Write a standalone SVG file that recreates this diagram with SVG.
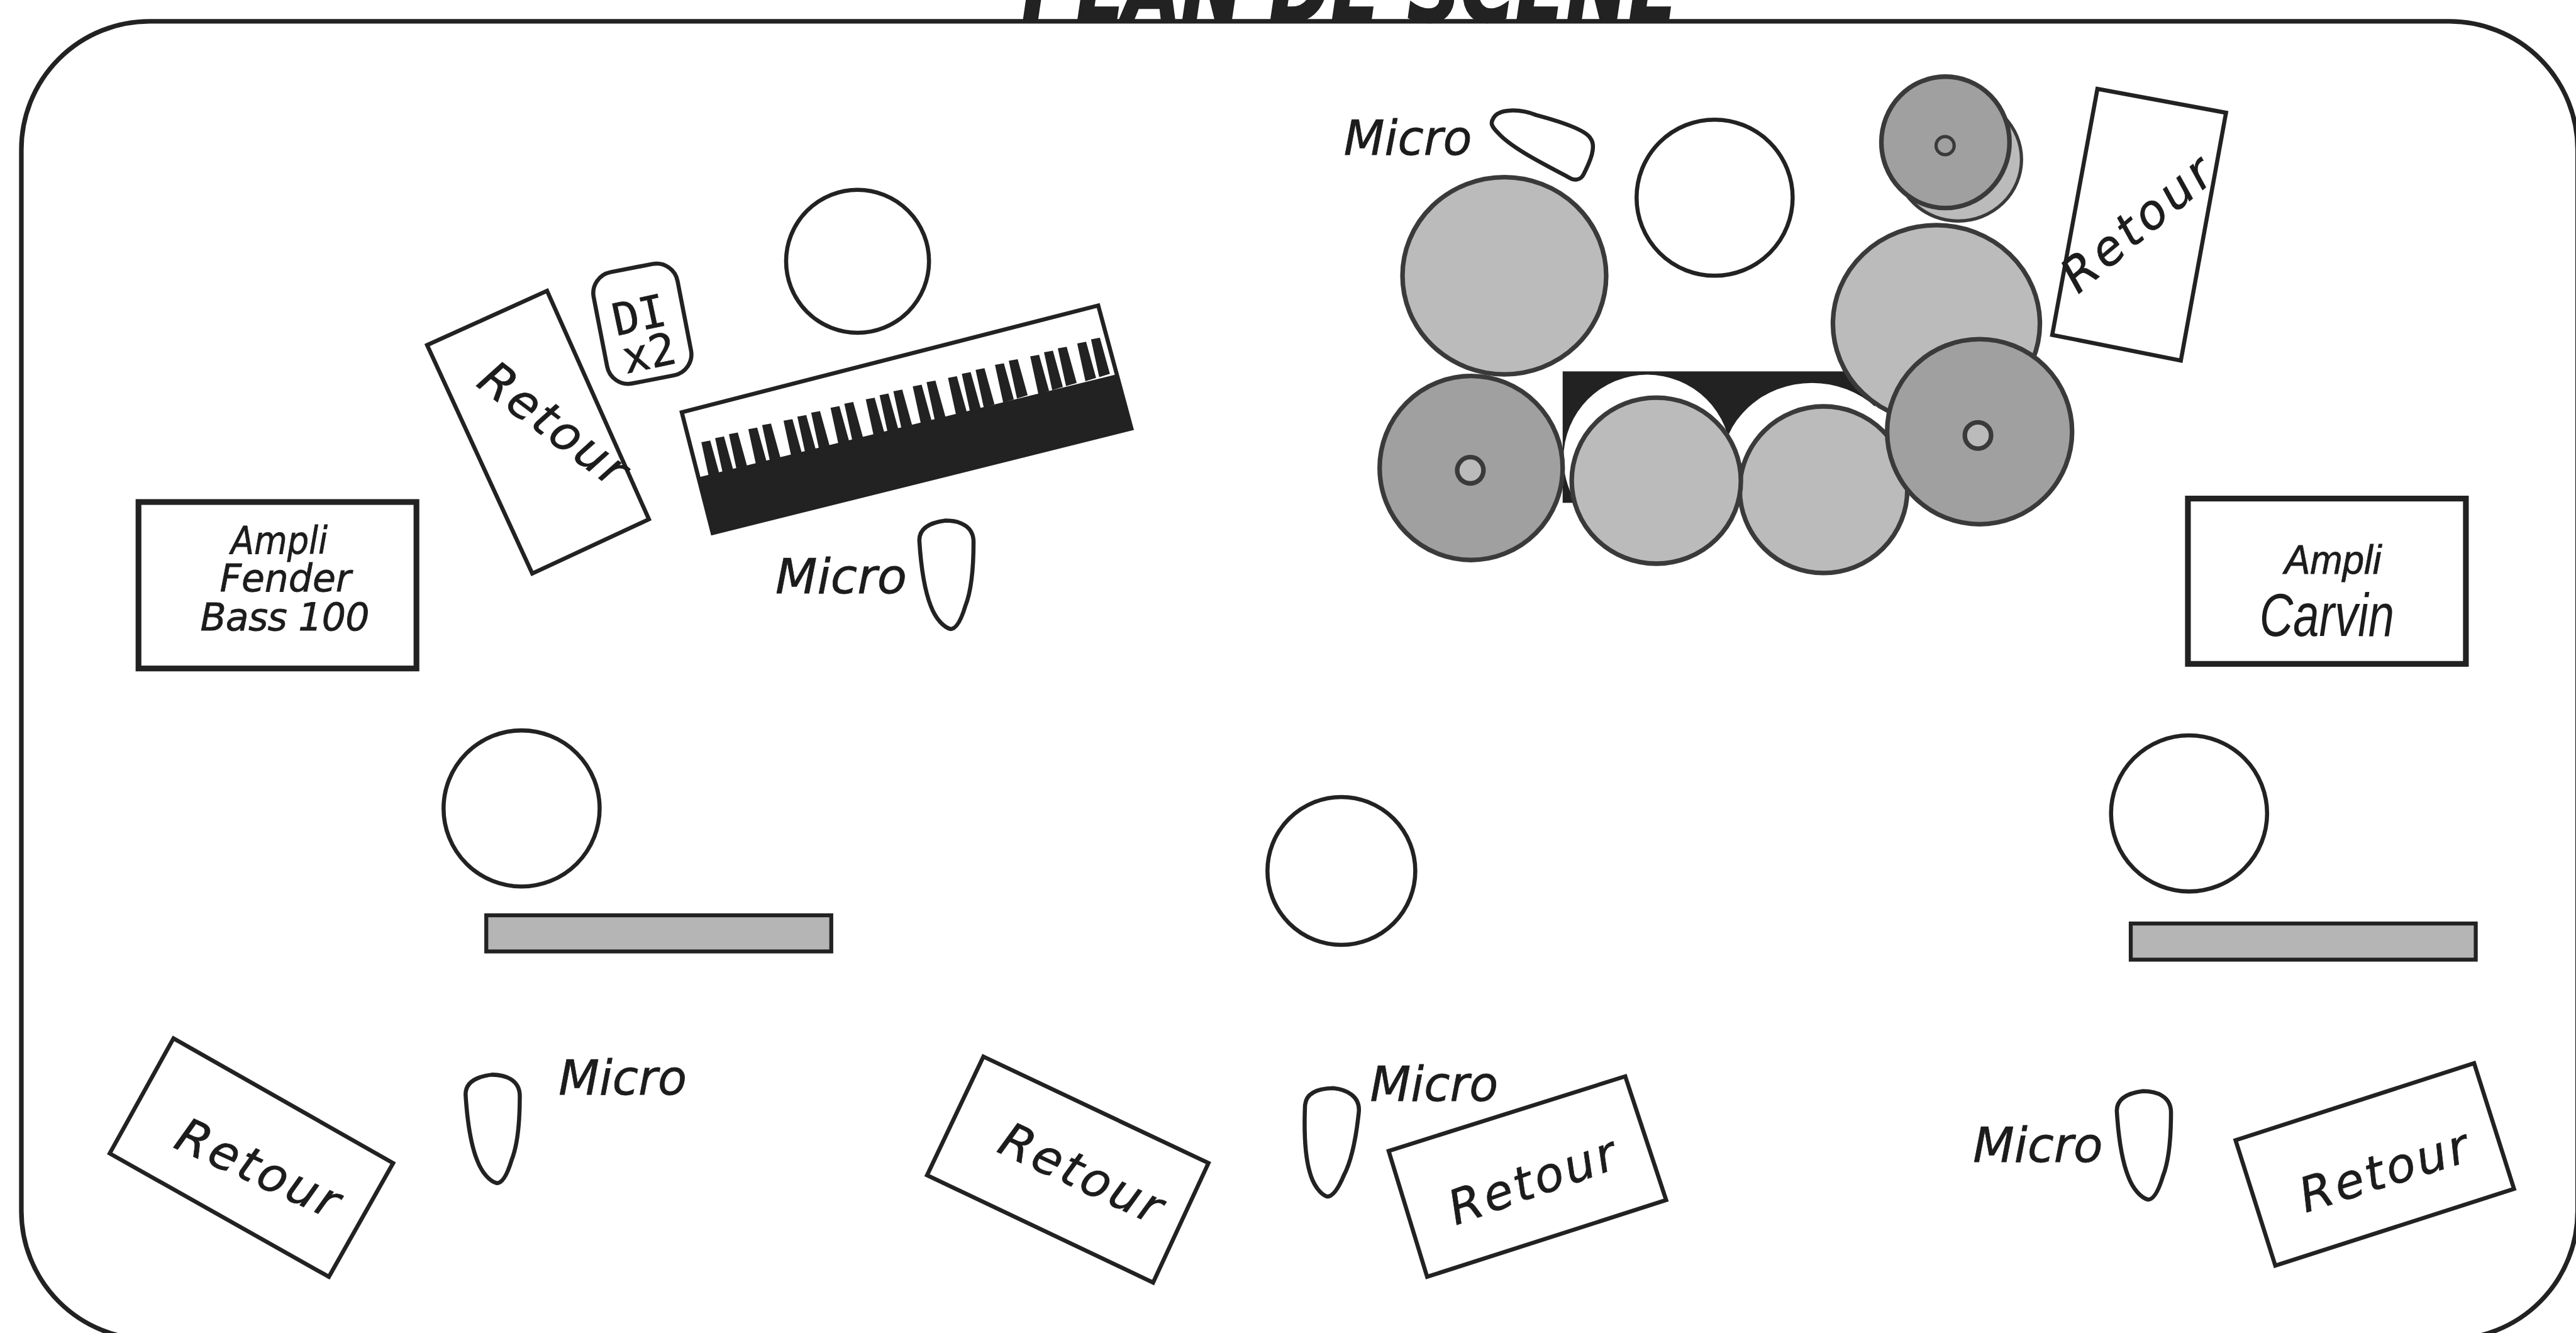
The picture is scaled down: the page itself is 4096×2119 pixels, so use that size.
<svg xmlns="http://www.w3.org/2000/svg" width="4096" height="2119" viewBox="0 0 4096 2119">
<style>
.o{fill:#fff;stroke:#222;stroke-width:2.5;stroke-linejoin:miter}
.t{font-family:"DejaVu Sans",sans-serif;font-style:italic;fill:#1c1c1c;font-size:29px;stroke:#1c1c1c;stroke-width:.3}
.c{text-anchor:middle}
.l{fill:#bbb;stroke:#3a3a3a;stroke-width:2.8}
.d{fill:#a0a0a0;stroke:#3a3a3a;stroke-width:2.8}
.n{fill:#222}
</style>
<defs>
<path id="pick" class="o" d="M0,12 C0,4 8,1 16,0 C24,0 33,3 33,13 C33,28 32,42 28,52 C25,62 22,66 19,66 C15,65 10,60 7,52 C3,42 1,28 0,12 Z"/>
<polygon id="key" class="n" points="0,0 5.400,-1 11.500,21 5,23"/>
<g id="oct">
<use href="#key" x="0" y="0"/><use href="#key" x="8.400" y="-2.500"/><use href="#key" x="16.800" y="-4.900"/><use href="#key" x="28.600" y="-7.900"/><use href="#key" x="37" y="-10.400"/>
</g>
</defs>
<rect width="4096" height="2119" fill="#fff"/>
<g transform="scale(2.6122)">
<g id="title">
<text x="822" y="13" class="c" font-family="'DejaVu Sans',sans-serif" font-weight="bold" font-style="italic" font-size="60" fill="#222" stroke="#222" stroke-width="1" textLength="400" lengthAdjust="spacingAndGlyphs">PLAN DE SCENE</text>
</g>
<rect id="stage" x="13" y="13" width="1556" height="802" rx="78" ry="78" fill="none" stroke="#222" stroke-width="2.8"/>

<g id="voice-keys"><circle class="o" cx="522" cy="159" r="43.500"/></g>
<g id="retour-keys">
<polygon class="o" points="260,210 333,177 395,316 324,349"/>
<text class="t c" transform="translate(331,266) rotate(37)" textLength="105" lengthAdjust="spacing">Retour</text>
</g>
<g id="di">
<rect class="o" x="365" y="162.500" width="52" height="69" rx="13" transform="rotate(-11 391 197)"/>
<text transform="translate(391,201) rotate(-12)" class="c" font-family="'DejaVu Sans Mono',monospace" font-size="27" fill="#1c1c1c" stroke="#1c1c1c" stroke-width=".3">DI</text>
<text transform="translate(397,224) rotate(-12)" class="c" font-family="'DejaVu Sans Mono',monospace" font-size="27" fill="#1c1c1c" stroke="#1c1c1c" stroke-width=".3">x2</text>
</g>
<g id="keyboard">
<polygon class="o" points="415,250.900 668.500,185.900 688.700,260.800 433.800,324.400"/>
<polygon class="n" points="426,290.300 679,228 688.700,260.800 433.800,324.400"/>
<use href="#oct" x="426.900" y="269.100"/><use href="#oct" x="476.950" y="256.050"/><use href="#oct" x="527" y="243"/><use href="#oct" x="577.050" y="229.950"/><use href="#oct" x="627.100" y="216.900"/>
</g>
<g id="micro-keys">
<use href="#pick" x="559.600" y="316.800"/>
<text class="t" x="472" y="361" textLength="80" lengthAdjust="spacingAndGlyphs">Micro</text>
</g>
<g id="ampli-fender">
<rect class="o" style="stroke-width:3.500" x="84.300" y="305.500" width="169.200" height="101.300"/>
<text class="t c" style="font-size:23px" x="170" y="336.700" textLength="59" lengthAdjust="spacingAndGlyphs">Ampli</text>
<text class="t c" style="font-size:23px" x="173.800" y="360" textLength="80" lengthAdjust="spacingAndGlyphs">Fender</text>
<text class="t c" style="font-size:23px" x="173.400" y="383.500" textLength="103" lengthAdjust="spacing">Bass 100</text>
</g>
<g id="micro-drums">
<text class="t" x="818" y="94" textLength="78" lengthAdjust="spacingAndGlyphs">Micro</text>
<path class="o" d="M909,72 C912,66 925,66 935,70 C950,74 965,79 968,84 C972,89 968,98 964,106 C962,110 958,110 955,108 C940,100 920,90 912,81 C908,77 907,75 909,72 Z"/>
</g>
<g id="voice-drums"><ellipse class="o" cx="1043.700" cy="120.300" rx="47.500" ry="47.500"/></g>
<g id="drums">
<rect class="n" x="951.200" y="226" width="190" height="80"/>
<circle cx="1002.700" cy="279" r="51" fill="#fff"/>
<ellipse cx="1103" cy="284" rx="55" ry="51" fill="#fff"/>
<ellipse class="l" cx="915.700" cy="167.800" rx="62" ry="60"/>
<ellipse class="l" cx="1178.700" cy="197" rx="63" ry="60"/>
<ellipse class="l" style="stroke-width:2" cx="1192" cy="97" rx="38.500" ry="37.500"/>
<ellipse class="d" cx="1184.200" cy="86.600" rx="39" ry="40"/>
<ellipse class="d" style="stroke-width:2" cx="1184" cy="88.600" rx="5.500" ry="5.500"/>
<ellipse class="l" cx="1110" cy="298" rx="51" ry="50.700"/>
<ellipse class="l" cx="1008.200" cy="292.500" rx="51.500" ry="50.500"/>
<ellipse class="d" cx="895.500" cy="284.800" rx="55.700" ry="56"/>
<circle class="l" cx="895" cy="286.200" r="8"/>
<ellipse class="d" cx="1205" cy="262.700" rx="56.300" ry="56.300"/>
<circle class="l" cx="1204" cy="265" r="8"/>
</g>
<g id="retour-drums">
<polygon class="o" points="1276.700,54.100 1355,68.600 1327.500,219.400 1249.200,203.800"/>
<text class="t c" transform="translate(1307,144) rotate(-40)" textLength="110" lengthAdjust="spacing">Retour</text>
</g>
<g id="ampli-carvin">
<rect class="o" style="stroke-width:3.500" x="1331.800" y="303.400" width="169.200" height="100.600"/>
<text x="1420" y="349" class="c" font-family="'Liberation Sans',sans-serif" font-style="italic" font-size="25" fill="#1c1c1c" stroke="#1c1c1c" stroke-width=".3" textLength="59" lengthAdjust="spacingAndGlyphs">Ampli</text>
<text x="1416.400" y="386.900" class="c" font-family="'Liberation Sans',sans-serif" font-style="italic" font-size="37" fill="#1c1c1c" textLength="82" lengthAdjust="spacingAndGlyphs">Carvin</text>
</g>
<g id="voice-left"><circle class="o" cx="317.500" cy="492" r="47.500"/></g>
<g id="voice-center"><circle class="o" cx="816.500" cy="530" r="45"/></g>
<g id="voice-right"><circle class="o" cx="1332.500" cy="495" r="47.500"/></g>
<g id="bar-left"><rect x="296" y="557" width="210" height="22" fill="#b5b5b5" stroke="#222" stroke-width="2.400"/></g>
<g id="bar-right"><rect x="1297" y="562" width="210" height="22" fill="#b5b5b5" stroke="#222" stroke-width="2.400"/></g>

<g id="retour-bl">
<polygon class="o" points="105.600,631.900 239.300,707.800 200.200,777 66.800,701.900"/>
<text class="t c" transform="translate(153,720) rotate(24.500)" textLength="106" lengthAdjust="spacing">Retour</text>
</g>
<g id="micro-left">
<use href="#pick" x="283.400" y="654"/>
<text class="t" x="340" y="666" textLength="78" lengthAdjust="spacingAndGlyphs">Micro</text>
</g>
<g id="retour-cl">
<polygon class="o" points="598.600,643 735.600,707.800 701.900,780.500 564.300,715.200"/>
<text class="t c" transform="translate(654,723) rotate(25)" textLength="106" lengthAdjust="spacing">Retour</text>
</g>
<g id="micro-center">
<use href="#pick" transform="translate(792,662) rotate(6 16 34)"/>
<text class="t" x="834" y="670" textLength="78" lengthAdjust="spacingAndGlyphs">Micro</text>
</g>
<g id="retour-cr">
<polygon class="o" points="989.300,655 1014.200,730.300 868.700,777 845.300,700.400"/>
<text class="t c" transform="translate(936,728) rotate(-19.500)" textLength="106" lengthAdjust="spacing">Retour</text>
</g>
<g id="micro-right">
<use href="#pick" x="1288.500" y="664"/>
<text class="t" x="1201" y="707" textLength="79" lengthAdjust="spacingAndGlyphs">Micro</text>
</g>
<g id="retour-br">
<polygon class="o" points="1506,647 1530.300,723.500 1385,770.200 1360.800,693.900"/>
<text class="t c" transform="translate(1454,722) rotate(-17.500)" textLength="106" lengthAdjust="spacing">Retour</text>
</g>
</g>
</svg>
